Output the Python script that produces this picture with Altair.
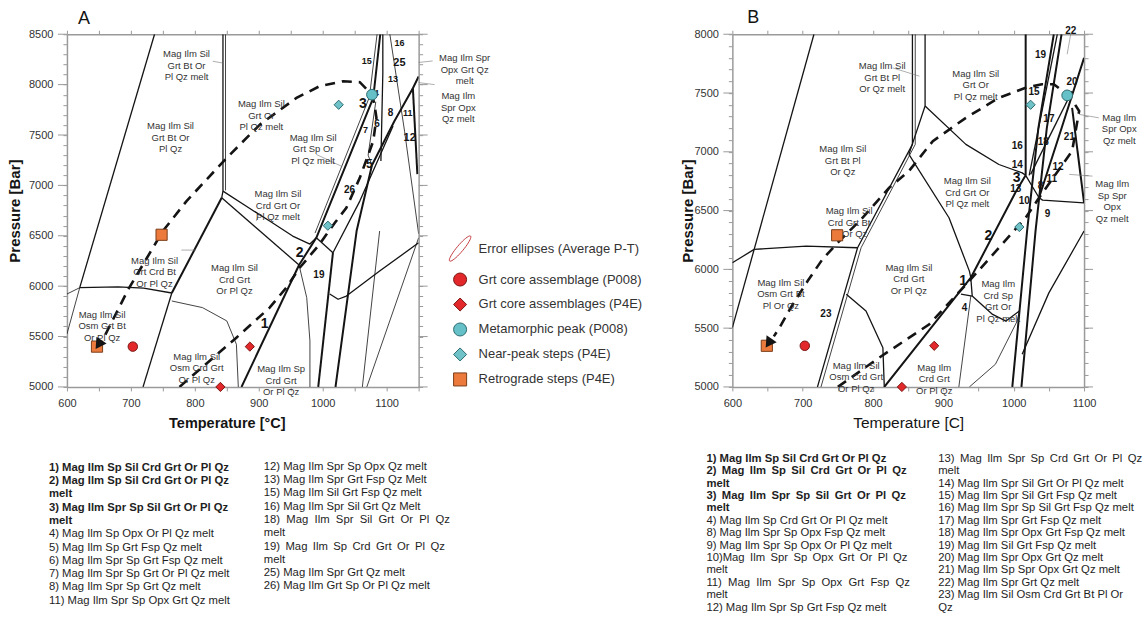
import math
import altair as alt
import pandas as pd

FONT = "Liberation Sans"
INK = "#141414"
GREY = "#9a9a9a"
LABEL_GREY = "#333333"
W, H = 352, 353

# ---------------------------------------------------------------- panel A values
A_T = [600, 1150]
A_P = [5000, 8500]

A_THICK = [
    [(764, 5932), (842, 6877)],
    [(873, 5000), (963, 6210)],
    [(963, 6210), (990, 6480), (1079, 7868), (1090, 8500)],
    [(993, 5000), (1016, 6332)],
    [(1020, 5000), (1053, 6547), (1077, 7200)],
    [(1077, 7200), (1112, 7637), (1141, 7964), (1150, 8080)],
    [(1141, 7964), (1148, 7112)],
]
A_MEDIUM = [
    [(737, 8500), (620, 5985)],
    [(620, 5985), (680, 5993), (720, 5980), (764, 5932)],
    [(719, 5000), (764, 5932)],
    [(842, 6877), (844, 6943), (844, 8500)],
    [(844, 6943), (880, 6795), (917, 6646), (953, 6497), (980, 6418), (990, 6480)],
    [(842, 6877), (963, 6210)],
    [(1016, 6332), (990, 6480)],
    [(1016, 6332), (1058, 6844), (1110, 7590)],
    [(1094, 8500), (1094, 8113), (1091, 7241)],
    [(1011, 5922), (1024, 5870), (1037, 5902), (1089, 6150), (1150, 6430)],
]
A_THIN = [
    [(620, 5985), (600, 5525)],
    [(620, 5985), (600, 5922)],
    [(848, 6950), (848, 8500)],
    [(764, 5853), (812, 5787), (850, 5655), (865, 5423), (868, 5000)],
    [(963, 6210), (975, 5886), (980, 5456), (980, 5000)],
    [(988, 6527), (1073, 7876), (1085, 8500)],
    [(1105, 8500), (1128, 7538), (1150, 6520)],
    [(1062, 5000), (1089, 6547)],
    [(1069, 5000), (1150, 6480)],
    [(1083, 7830), (1071, 7300), (1077, 7200)],
]
A_LEADERS = [
    [(828, 8232), (843, 8215)],
    [(990, 7307), (1029, 7191)],
    [(901, 6728), (896, 6646)],
    [(779, 6358), (802, 6358)],
    [(1150, 8220), (1172, 8235)],
    [(1150, 8020), (1175, 8000)],
]
A_PATH = [(776, 5000), (865, 5489), (917, 5787), (943, 5985), (964, 6183), (995, 6415),
          (1006, 6514), (1019, 6629), (1037, 6778), (1058, 7075), (1079, 7439), (1084, 7670),
          (1081, 7800), (1077, 7902), (1058, 8024), (1032, 8034), (995, 7984), (959, 7868),
          (902, 7605), (850, 7274), (787, 6844), (750, 6547), (696, 5969), (657, 5480)]
A_ARROW = [(651, 5435)]
A_FIELDS = [
    (787, 8300, "Mag Ilm Sil\nGrt Bt Or\nPl Qz melt"),
    (762, 7588, "Mag Ilm Sil\nGrt Bt Or\nPl Qz"),
    (904, 7803, "Mag Ilm Sil\nGrt Or\nPl Qz melt"),
    (985, 7472, "Mag Ilm Sil\nGrt Sp Or\nPl Qz melt"),
    (930, 6911, "Mag Ilm Sil\nCrd Grt Or\nPl Qz melt"),
    (862, 6177, "Mag Ilm Sil\nCrd Grt\nOr Pl Qz"),
    (737, 6250, "Mag Ilm Sil\nGrt Crd Bt\nOr Pl Qz"),
    (655, 5714, "Mag Ilm Sil\nOsm Grt Bt\nOr Pl Qz"),
    (803, 5297, "Mag Ilm Sil\nOsm Crd Grt\nOr Pl Qz"),
    (935, 5175, "Mag Ilm Sp\nCrd Grt\nOr Pl Qz"),
    (1222, 8262, "Mag Ilm Spr\nOpx Grt Qz\nmelt"),
    (1212, 7885, "Mag Ilm\nSpr Opx\nQz melt"),
]
A_NUMBERS = [
    (909, 5622, "1", 14), (964, 6332, "2", 14), (1063, 7803, "3", 14),
    (994, 6107, "19", 10), (1042, 6950, "26", 10), (1073, 7208, "5", 12),
    (1085, 7611, "6", 10), (1067, 7545, "7", 9), (1106, 7720, "8", 10),
    (1133, 7720, "11", 9), (1136, 7472, "12", 11), (1110, 8051, "13", 9),
    (1080, 7915, "14", 9), (1069, 8232, "15", 9), (1120, 8414, "16", 9),
    (1120, 8216, "25", 11),
]
A_MARKERS = [
    ("Grt core assemblage (P008)", 703, 5400),
    ("Grt core assemblages (P4E)", 886, 5400),
    ("Grt core assemblages (P4E)", 840, 5000),
    ("Metamorphic peak (P008)", 1077, 7900),
    ("Near-peak steps (P4E)", 1025, 7800),
    ("Near-peak steps (P4E)", 1008, 6600),
    ("Retrograde steps (P4E)", 748, 6510),
    ("Retrograde steps (P4E)", 647, 5400),
]

# ---------------------------------------------------------------- panel B values
B_T = [600, 1100]
B_P = [5000, 8000]

B_THICK = [
    [(816, 5000), (939, 5929), (1003, 6660), (1017, 6800)],
    [(998, 5000), (1019, 6326), (1035, 7200), (1057, 8000)],
    [(1011, 5000), (1031, 6326), (1047, 7200), (1068, 8000)],
    [(1017, 8000), (1017, 6800)],
    [(1036, 6609), (1068, 7200), (1100, 7799)],
    [(1083, 7374), (1100, 6566)],
]
B_MEDIUM = [
    [(716, 8000), (631, 6170)],
    [(631, 6170), (600, 6056)],
    [(631, 6170), (600, 5504)],
    [(631, 6170), (705, 6198), (778, 6184)],
    [(721, 5000), (778, 6184), (856, 7063), (856, 8000)],
    [(851, 6978), (874, 7390), (874, 8000)],
    [(874, 7390), (932, 7063), (979, 6892), (1012, 6821), (1017, 6800)],
    [(851, 6978), (908, 6439), (937, 5985), (939, 5929)],
    [(939, 5929), (941, 5773)],
    [(925, 5790), (941, 5773), (970, 5617), (989, 5560), (1008, 5646)],
    [(762, 5788), (790, 5646), (814, 5334), (816, 5000)],
    [(1017, 6800), (1036, 6609), (1041, 6589), (1100, 6566)],
    [(1024, 6808), (1083, 7516)],
    [(1012, 5278), (1050, 5800), (1100, 6326)],
    [(1022, 6800), (1062, 8000)],
]
B_THIN = [
    [(726, 5000), (783, 6184), (860, 7063), (860, 8000)],
    [(939, 5773), (922, 5000)],
    [(937, 5000), (974, 5193), (1005, 5561), (1008, 5646)],
]
B_LEADERS = [
    [(828, 7714), (866, 7643)],
    [(1121, 7289), (1093, 7318)],
    [(1112, 6793), (1079, 6808)],
    [(1081, 8000), (1076, 7830)],
]
B_PATH = [(750, 5000), (809, 5250), (880, 5533), (941, 5929), (1017, 6439), (1036, 6609),
          (1083, 7006), (1093, 7346), (1080, 7470), (1057, 7575), (1040, 7575), (1017, 7544),
          (979, 7459), (932, 7289), (885, 7091), (851, 6836), (823, 6694), (783, 6425),
          (752, 6241), (728, 6085), (707, 5901), (683, 5674), (667, 5504), (659, 5430)]
B_ARROW = [(653, 5385)]
B_FIELDS = [
    (813, 7728, "Mag Ilm Sil\nGrt Bt Pl\nOr Qz melt"),
    (946, 7663, "Mag Ilm Sil\nGrt Or\nPl Qz melt"),
    (757, 7020, "Mag Ilm Sil\nGrt Bt Pl\nOr Qz"),
    (766, 6496, "Mag Ilm Sil\nCrd Grt Bt\nPl Or Qz"),
    (669, 5886, "Mag Ilm Sil\nOsm Grt Bt\nPl Or Qz"),
    (776, 5178, "Mag Ilm Sil\nOsm Crd Grt\nOr Pl Qz"),
    (851, 6014, "Mag Ilm Sil\nCrd Grt\nOr Pl Qz"),
    (934, 6751, "Mag Ilm Sil\nCrd Grt Or\nPl Qz melt"),
    (978, 5873, "Mag Ilm\nCrd Sp\nGrt Or\nPl Qz melt"),
    (887, 5164, "Mag Ilm\nCrd Grt\nOr Pl Qz"),
    (1150, 7289, "Mag Ilm\nSpr Opx\nQz melt"),
    (1140, 6723, "Mag Ilm\nSp Spr\nOpx\nQz melt"),
]
B_NUMBERS = [
    (928, 5901, "1", 14), (964, 6283, "2", 14), (1004, 6775, "3", 14),
    (930, 5674, "4", 10), (733, 5623, "23", 10), (1005, 6887, "14", 10),
    (1005, 7048, "16", 10), (1029, 7510, "15", 10), (1038, 7827, "19", 10),
    (1081, 8031, "22", 10), (1083, 7595, "20", 10), (1050, 7283, "17", 10),
    (1042, 7085, "18", 10), (1079, 7125, "21", 10), (1063, 6870, "12", 10),
    (1054, 6765, "11", 10), (1038, 6708, "8", 10), (1015, 6581, "10", 10),
    (1048, 6473, "9", 10), (1003, 6680, "13", 10),
]
B_MARKERS = [
    ("Grt core assemblage (P008)", 703, 5350),
    ("Grt core assemblages (P4E)", 887, 5350),
    ("Grt core assemblages (P4E)", 841, 5000),
    ("Metamorphic peak (P008)", 1076, 7480),
    ("Near-peak steps (P4E)", 1024, 7400),
    ("Near-peak steps (P4E)", 1008, 6360),
    ("Retrograde steps (P4E)", 749, 6290),
    ("Retrograde steps (P4E)", 649, 5350),
]

# ---------------------------------------------------------------- legend / key text
SERIES = ["Error ellipses (Average P-T)", "Grt core assemblage (P008)",
          "Grt core assemblages (P4E)", "Metamorphic peak (P008)",
          "Near-peak steps (P4E)", "Retrograde steps (P4E)"]
SERIES_FILL = ["transparent", "#e2282a", "#e2282a", "#66c0c7", "#6fc3c8", "#ec7a3c"]
SERIES_STROKE = ["#c23a3f", "#7a1712", "#7a1712", "#2c6a70", "#2c6a70", "#7a3e1a"]
SERIES_SIZE = {SERIES[1]: 90, SERIES[2]: 85, SERIES[3]: 115, SERIES[4]: 85, SERIES[5]: 125}

NBSP = "\u00a0"
THIN = "\u2009"


def spread(s, gap):
    return s.replace(" ", gap + " ")


A_KEY_BOLD = ["1) Mag Ilm Sp Sil Crd Grt Or Pl Qz", "2) Mag Ilm Sp Sil Crd Grt Or Pl Qz", "melt",
              "3) Mag Ilm Spr Sp Sil Grt Or Pl Qz", "melt"]
A_KEY_LEFT = ["4) Mag Ilm Sp Opx Or Pl Qz melt", "5) Mag Ilm Sp Grt Fsp Qz melt",
              "6) Mag Ilm Spr Sp Grt Fsp Qz melt", "7) Mag Ilm Spr Sp Grt Or Pl Qz melt",
              "8) Mag Ilm Spr Sp Grt Qz melt", "11) Mag Ilm Spr Sp Opx Grt Qz melt"]
A_KEY_RIGHT = ["12) Mag Ilm Spr Sp Opx Qz melt", "13) Mag Ilm Spr Grt Fsp Qz Melt",
               "15) Mag Ilm Sil Grt Fsp Qz melt", "16) Mag Ilm Spr Sil Grt Qz Melt",
               spread("18) Mag Ilm Spr Sil Grt Or Pl Qz", NBSP), "melt",
               spread("19) Mag Ilm Sp Crd Grt Or Pl Qz", THIN), "melt",
               "25) Mag Ilm Spr Grt Qz melt", "26) Mag Ilm Grt Sp Or Pl Qz melt"]

B_KEY_BOLD = ["1) Mag Ilm Sp Sil Crd Grt Or Pl Qz", spread("2) Mag Ilm Sp Sil Crd Grt Or Pl Qz", THIN),
              "melt", spread("3) Mag Ilm Spr Sp Sil Grt Or Pl Qz", THIN), "melt"]
B_KEY_LEFT = ["4) Mag Ilm Sp Crd Grt Or Pl Qz melt", "8) Mag Ilm Spr Sp Opx Fsp Qz melt",
              "9) Mag Ilm Spr Sp Opx Or Pl Qz melt", spread("10)Mag Ilm Spr Sp Opx Grt Or Pl Qz", THIN),
              "melt", spread("11) Mag Ilm Spr Sp Opx Grt Fsp Qz", NBSP), "melt",
              "12) Mag Ilm Spr Sp Grt Fsp Qz melt"]
B_KEY_RIGHT = [spread("13) Mag Ilm Spr Sp Crd Grt Or Pl Qz", THIN), "melt",
               "14) Mag Ilm Spr Sil Grt Or Pl Qz melt", "15) Mag Ilm Spr Sil Grt Fsp Qz melt",
               "16) Mag Ilm Spr Sp Sil Grt Fsp Qz melt", "17) Mag Ilm Spr Grt Fsp Qz melt",
               "18) Mag Ilm Spr Opx Grt Fsp Qz melt", "19) Mag Ilm Sil Grt Fsp Qz melt",
               "20) Mag Ilm Spr Opx Grt Qz melt", "21) Mag Ilm Sp Spr Opx Grt Qz melt",
               "22) Mag Ilm Spr Grt Qz melt", "23) Mag Ilm Sil Osm Crd Grt Bt Pl Or", "Qz"]


# ---------------------------------------------------------------- helpers
def ellipse_symbol(a=2.5, b=0.5, deg=-50, n=40):
    r = math.radians(deg)
    pts = []
    for k in range(n):
        t = 2 * math.pi * k / n
        x, y = a * math.cos(t), b * math.sin(t)
        pts.append((x * math.cos(r) - y * math.sin(r), x * math.sin(r) + y * math.cos(r)))
    return "M" + " L".join(f"{x:.3f},{y:.3f}" for x, y in pts) + " Z"


SERIES_SHAPE = [ellipse_symbol(), "circle", "diamond", "circle", "diamond", "square"]


def poly_frame(groups):
    rows, n = [], 0
    for polylines, w, c in groups:
        for pl in polylines:
            n += 1
            for i, (t, p) in enumerate(pl):
                rows.append(dict(id=n, i=i, T=t, P=p, w=w, c=c))
    return pd.DataFrame(rows)


ONE = pd.DataFrame({"k": [0]})


def build_panel(cfg):
    T0, T1 = cfg["T"]
    P0, P1 = cfg["P"]
    xs = alt.Scale(domain=[T0, T1], nice=False, zero=False)
    ys = alt.Scale(domain=[P0, P1], nice=False, zero=False)
    X = alt.X("T:Q", scale=xs, axis=None)
    Y = alt.Y("P:Q", scale=ys, axis=None)

    common = dict(domainColor=GREY, domainWidth=1.5, tickColor=GREY, tickWidth=1, tickSize=4,
                  grid=False, labelFont=FONT, labelFontSize=11, labelColor=LABEL_GREY,
                  labelFlush=False, labelOverlap=False, titleFont=FONT, titleColor=INK)
    tvals = list(range(T0, T1 + 1, 50))
    pvals = list(range(P0, P1 + 1, 100))
    ax_b = alt.Axis(orient="bottom", values=tvals, format="d",
                    labelExpr="datum.value % 100 === 0 ? datum.label : ''", labelPadding=7,
                    title=cfg["xtitle"], titleFontSize=cfg["xtitle_size"],
                    titleFontWeight=cfg["xtitle_weight"], titleX=cfg["xtitle_x"],
                    titleY=cfg["xtitle_y"], titleBaseline="middle", titleAlign="center", **common)
    ax_l = alt.Axis(orient="left", values=pvals, format="d",
                    labelExpr="datum.value % 500 === 0 ? datum.label : ''", labelPadding=10,
                    title="Pressure [Bar]", titleFontSize=15, titleFontWeight="bold",
                    titleX=cfg["ytitle_x"], titleY=H / 2, titleBaseline="middle",
                    titleAlign="center", **common)
    ax_t = alt.Axis(orient="top", values=tvals, labels=False, title=None, **common)
    ax_r = alt.Axis(orient="right", values=pvals, labels=False, title=None, **common)

    corner = pd.DataFrame({"T": [T0], "P": [P0]})
    axes1 = alt.Chart(corner).mark_point(opacity=0).encode(
        x=alt.X("T:Q", scale=xs, axis=ax_b), y=alt.Y("P:Q", scale=ys, axis=ax_l))
    axes2 = alt.Chart(corner).mark_point(opacity=0).encode(
        x=alt.X("T:Q", scale=xs, axis=ax_t), y=alt.Y("P:Q", scale=ys, axis=ax_r))

    major = pd.DataFrame({"P": list(range(P0, P1 + 1, 500))})
    maj_l = alt.Chart(major).mark_rule(color=GREY, strokeWidth=1).encode(
        y=Y, x=alt.value(-9), x2=alt.value(0))
    maj_r = alt.Chart(major).mark_rule(color=GREY, strokeWidth=1).encode(
        y=Y, x=alt.value(W), x2=alt.value(W + 9))

    lines = poly_frame([(cfg["thin"], 0.8, INK), (cfg["medium"], 1.3, INK),
                        (cfg["thick"], 2.0, INK)])
    line_layer = alt.Chart(lines).mark_line(clip=True, strokeJoin="round").encode(
        x=X, y=Y, detail="id:N", order="i:Q",
        strokeWidth=alt.StrokeWidth("w:Q", scale=None), color=alt.Color("c:N", scale=None))

    leaders = poly_frame([(cfg["leaders"], 0.6, "#777777")])
    leader_layer = alt.Chart(leaders).mark_line().encode(
        x=X, y=Y, detail="id:N", order="i:Q",
        strokeWidth=alt.StrokeWidth("w:Q", scale=None), color=alt.Color("c:N", scale=None))

    path = pd.DataFrame([dict(i=i, T=t, P=p) for i, (t, p) in enumerate(cfg["path"])])
    path_layer = alt.Chart(path).mark_line(clip=True, color=INK, strokeWidth=2.6,
                                           strokeDash=[10, 7]).encode(x=X, y=Y, order="i:Q")

    fields = pd.DataFrame([dict(T=t, P=p, txt=s) for t, p, s in cfg["fields"]])
    field_layer = alt.Chart(fields).mark_text(
        font=FONT, fontSize=9.5, lineHeight=11.5, lineBreak="\n", color=LABEL_GREY,
        align="center", baseline="middle").encode(x=X, y=Y, text="txt:N")

    nums = pd.DataFrame([dict(T=t, P=p, txt=s, fs=f) for t, p, s, f in cfg["numbers"]])
    num_layer = alt.Chart(nums).mark_text(
        font=FONT, fontWeight="bold", color=INK, align="center", baseline="middle").encode(
        x=X, y=Y, text="txt:N", size=alt.Size("fs:Q", scale=None))

    mk = pd.DataFrame([dict(s=s, T=t, P=p, sz=SERIES_SIZE[s]) for s, t, p in cfg["markers"]])
    leg = cfg["legend"]
    mark_layer = alt.Chart(mk).mark_point(filled=True, opacity=1, strokeWidth=1).encode(
        x=X, y=Y,
        shape=alt.Shape("s:N", scale=alt.Scale(domain=SERIES, range=SERIES_SHAPE), legend=leg),
        fill=alt.Fill("s:N", scale=alt.Scale(domain=SERIES, range=SERIES_FILL), legend=leg),
        stroke=alt.Stroke("s:N", scale=alt.Scale(domain=SERIES, range=SERIES_STROKE), legend=leg),
        size=alt.Size("sz:Q", scale=None))

    arrow = pd.DataFrame([dict(T=t, P=p) for t, p in cfg["arrow"]])
    arrow_layer = alt.Chart(arrow).mark_point(shape="triangle", filled=True, color=INK,
                                              opacity=1, size=150, angle=214).encode(x=X, y=Y)

    letter = alt.Chart(ONE).mark_text(text=cfg["letter"], font=FONT, fontSize=18, color=INK,
                                      align="left", baseline="middle").encode(
        x=alt.value(cfg["letter_xy"][0]), y=alt.value(cfg["letter_xy"][1]))

    key_layers = []
    for kx, ky, txt, bold, lh in cfg["keys"]:
        key_layers.append(alt.Chart(ONE).mark_text(
            text=txt, font=FONT, fontSize=11.3, lineHeight=lh, color="#1e1e1e",
            fontWeight="bold" if bold else "normal", align="left", baseline="alphabetic").encode(
            x=alt.value(kx), y=alt.value(ky)))

    layers = [axes1, axes2, maj_l, maj_r, line_layer, leader_layer, path_layer, field_layer,
              num_layer, mark_layer, arrow_layer, letter] + key_layers
    return alt.layer(*layers).resolve_axis(x="independent", y="independent").properties(
        width=W, height=H)


legend_a = alt.Legend(orient="none", legendX=386, legendY=207, title=None, labelFont=FONT,
                      labelFontSize=13, labelColor=LABEL_GREY, labelLimit=0, symbolSize=170,
                      symbolStrokeWidth=1, rowPadding=6, labelOffset=11, padding=0)

LH_A, LH_B = 13.3, 12.4
panel_a = build_panel(dict(
    T=A_T, P=A_P, thick=A_THICK, medium=A_MEDIUM, thin=A_THIN, leaders=A_LEADERS,
    path=A_PATH, arrow=A_ARROW, fields=A_FIELDS, numbers=A_NUMBERS, markers=A_MARKERS,
    legend=legend_a, letter="A", letter_xy=(11, -15),
    xtitle="Temperature [°C]", xtitle_size=14.5, xtitle_weight="bold", xtitle_x=160,
    xtitle_y=37, ytitle_x=-52,
    keys=[(-18, 437, A_KEY_BOLD, True, LH_A),
          (-18, 437 + 5 * LH_A, A_KEY_LEFT, False, LH_A),
          (197, 436, A_KEY_RIGHT, False, LH_A)],
))
panel_b = build_panel(dict(
    T=B_T, P=B_P, thick=B_THICK, medium=B_MEDIUM, thin=B_THIN, leaders=B_LEADERS,
    path=B_PATH, arrow=B_ARROW, fields=B_FIELDS, numbers=B_NUMBERS, markers=B_MARKERS,
    legend=None, letter="B", letter_xy=(15, -16),
    xtitle="Temperature [C]", xtitle_size=15.5, xtitle_weight="normal", xtitle_x=W / 2,
    xtitle_y=36, ytitle_x=-45,
    keys=[(-26, 428, B_KEY_BOLD, True, LH_B),
          (-26, 428 + 5 * LH_B, B_KEY_LEFT, False, LH_B),
          (206, 428, B_KEY_RIGHT, False, LH_B)],
))

chart = alt.hconcat(panel_a, panel_b, spacing=314, bounds="flush").resolve_scale(
    shape="independent", fill="independent", stroke="independent").properties(
    padding={"left": 8, "top": 9, "right": 0, "bottom": 0},
    background="white").configure_view(stroke=None)

chart.save("out.html", embed_options={"renderer": "svg", "actions": False})
